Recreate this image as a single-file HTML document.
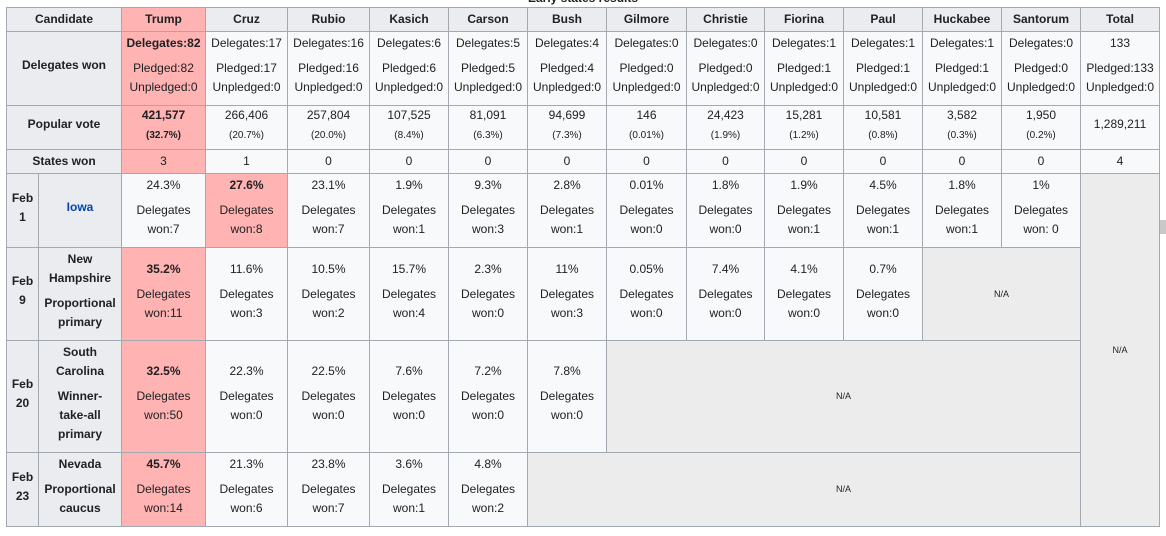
<!DOCTYPE html>
<html><head><meta charset="utf-8"><style>
body{margin:0;background:#fff;width:1166px;height:536px;overflow:hidden;position:relative;font-family:"Liberation Sans",Arial,sans-serif;font-size:12px;color:#202122}
.title{position:absolute;top:-9px;left:0;width:1166px;text-align:center;font-weight:bold;font-size:12px}
table{position:absolute;left:6px;top:7px;border-collapse:collapse;table-layout:fixed;width:1154px}
td,th{border:1px solid #a2a9b1;background:#f8f9fa;text-align:center;vertical-align:middle;padding:0 1px 6px 1px;line-height:19px;overflow:hidden}
th{background:#eaecf0;font-weight:bold}
tr:first-child th,tr:nth-child(4) td,tr:nth-child(4) th{padding-bottom:0}
th.st{padding:0 5px 6px 5px}
.t{background:#ffb3b3}
td.na{background:#ececec;font-size:9px;padding:0}
.g{margin-top:6px}
.s{font-size:10px;line-height:14px;margin-top:4px}
a{color:#0645ad;text-decoration:none}
.sb{position:absolute;left:1160px;top:220px;width:6px;height:14px;background:#c8c8c8}
</style></head><body>
<div class="title">Early states results</div>
<table>
<colgroup><col style="width:32px"><col style="width:83px"><col style="width:84px"><col style="width:82px"><col style="width:82px"><col style="width:79px"><col style="width:79px"><col style="width:79px"><col style="width:80px"><col style="width:78px"><col style="width:79px"><col style="width:79px"><col style="width:79px"><col style="width:79px"><col style="width:79px"></colgroup>
<tr style="height:24px"><th colspan="2">Candidate</th><th class="t">Trump</th><th>Cruz</th><th>Rubio</th><th>Kasich</th><th>Carson</th><th>Bush</th><th>Gilmore</th><th>Christie</th><th>Fiorina</th><th>Paul</th><th>Huckabee</th><th>Santorum</th><th>Total</th></tr>
<tr style="height:74px"><th colspan="2">Delegates won</th>
<td class="t"><div><b>Delegates:82</b></div><div class="g">Pledged:82</div><div>Unpledged:0</div></td>
<td><div>Delegates:17</div><div class="g">Pledged:17</div><div>Unpledged:0</div></td>
<td><div>Delegates:16</div><div class="g">Pledged:16</div><div>Unpledged:0</div></td>
<td><div>Delegates:6</div><div class="g">Pledged:6</div><div>Unpledged:0</div></td>
<td><div>Delegates:5</div><div class="g">Pledged:5</div><div>Unpledged:0</div></td>
<td><div>Delegates:4</div><div class="g">Pledged:4</div><div>Unpledged:0</div></td>
<td><div>Delegates:0</div><div class="g">Pledged:0</div><div>Unpledged:0</div></td>
<td><div>Delegates:0</div><div class="g">Pledged:0</div><div>Unpledged:0</div></td>
<td><div>Delegates:1</div><div class="g">Pledged:1</div><div>Unpledged:0</div></td>
<td><div>Delegates:1</div><div class="g">Pledged:1</div><div>Unpledged:0</div></td>
<td><div>Delegates:1</div><div class="g">Pledged:1</div><div>Unpledged:0</div></td>
<td><div>Delegates:0</div><div class="g">Pledged:0</div><div>Unpledged:0</div></td>
<td><div>133</div><div class="g">Pledged:133</div><div>Unpledged:0</div></td></tr>
<tr style="height:43px"><th colspan="2">Popular vote</th>
<td class="t"><div><b>421,577</b></div><div class="s"><b>(32.7%)</b></div></td>
<td><div>266,406</div><div class="s">(20.7%)</div></td>
<td><div>257,804</div><div class="s">(20.0%)</div></td>
<td><div>107,525</div><div class="s">(8.4%)</div></td>
<td><div>81,091</div><div class="s">(6.3%)</div></td>
<td><div>94,699</div><div class="s">(7.3%)</div></td>
<td><div>146</div><div class="s">(0.01%)</div></td>
<td><div>24,423</div><div class="s">(1.9%)</div></td>
<td><div>15,281</div><div class="s">(1.2%)</div></td>
<td><div>10,581</div><div class="s">(0.8%)</div></td>
<td><div>3,582</div><div class="s">(0.3%)</div></td>
<td><div>1,950</div><div class="s">(0.2%)</div></td>
<td>1,289,211</td></tr>
<tr style="height:24px"><th colspan="2">States won</th><td class="t">3</td><td>1</td><td>0</td><td>0</td><td>0</td><td>0</td><td>0</td><td>0</td><td>0</td><td>0</td><td>0</td><td>0</td><td>4</td></tr>
<tr style="height:74px"><th>Feb 1</th><th class="st"><a>Iowa</a></th>
<td><div>24.3%</div><div class="g">Delegates won:7</div></td>
<td class="t"><div><b>27.6%</b></div><div class="g">Delegates won:8</div></td>
<td><div>23.1%</div><div class="g">Delegates won:7</div></td>
<td><div>1.9%</div><div class="g">Delegates won:1</div></td>
<td><div>9.3%</div><div class="g">Delegates won:3</div></td>
<td><div>2.8%</div><div class="g">Delegates won:1</div></td>
<td><div>0.01%</div><div class="g">Delegates won:0</div></td>
<td><div>1.8%</div><div class="g">Delegates won:0</div></td>
<td><div>1.9%</div><div class="g">Delegates won:1</div></td>
<td><div>4.5%</div><div class="g">Delegates won:1</div></td>
<td><div>1.8%</div><div class="g">Delegates won:1</div></td>
<td><div>1%</div><div class="g">Delegates won: 0</div></td>
<td class="na" rowspan="4">N/A</td></tr>
<tr style="height:93px"><th>Feb 9</th><th class="st"><div>New Hampshire</div><div class="g">Proportional primary</div></th>
<td class="t"><div><b>35.2%</b></div><div class="g">Delegates won:11</div></td>
<td><div>11.6%</div><div class="g">Delegates won:3</div></td>
<td><div>10.5%</div><div class="g">Delegates won:2</div></td>
<td><div>15.7%</div><div class="g">Delegates won:4</div></td>
<td><div>2.3%</div><div class="g">Delegates won:0</div></td>
<td><div>11%</div><div class="g">Delegates won:3</div></td>
<td><div>0.05%</div><div class="g">Delegates won:0</div></td>
<td><div>7.4%</div><div class="g">Delegates won:0</div></td>
<td><div>4.1%</div><div class="g">Delegates won:0</div></td>
<td><div>0.7%</div><div class="g">Delegates won:0</div></td>
<td class="na" colspan="2">N/A</td></tr>
<tr style="height:112px"><th>Feb 20</th><th class="st"><div>South Carolina</div><div class="g">Winner-take-all primary</div></th>
<td class="t"><div><b>32.5%</b></div><div class="g">Delegates won:50</div></td>
<td><div>22.3%</div><div class="g">Delegates won:0</div></td>
<td><div>22.5%</div><div class="g">Delegates won:0</div></td>
<td><div>7.6%</div><div class="g">Delegates won:0</div></td>
<td><div>7.2%</div><div class="g">Delegates won:0</div></td>
<td><div>7.8%</div><div class="g">Delegates won:0</div></td>
<td class="na" colspan="6">N/A</td></tr>
<tr style="height:74px"><th>Feb 23</th><th class="st"><div>Nevada</div><div class="g">Proportional caucus</div></th>
<td class="t"><div><b>45.7%</b></div><div class="g">Delegates won:14</div></td>
<td><div>21.3%</div><div class="g">Delegates won:6</div></td>
<td><div>23.8%</div><div class="g">Delegates won:7</div></td>
<td><div>3.6%</div><div class="g">Delegates won:1</div></td>
<td><div>4.8%</div><div class="g">Delegates won:2</div></td>
<td class="na" colspan="8">N/A</td></tr>
</table>
<div class="sb"></div>
</body></html>
